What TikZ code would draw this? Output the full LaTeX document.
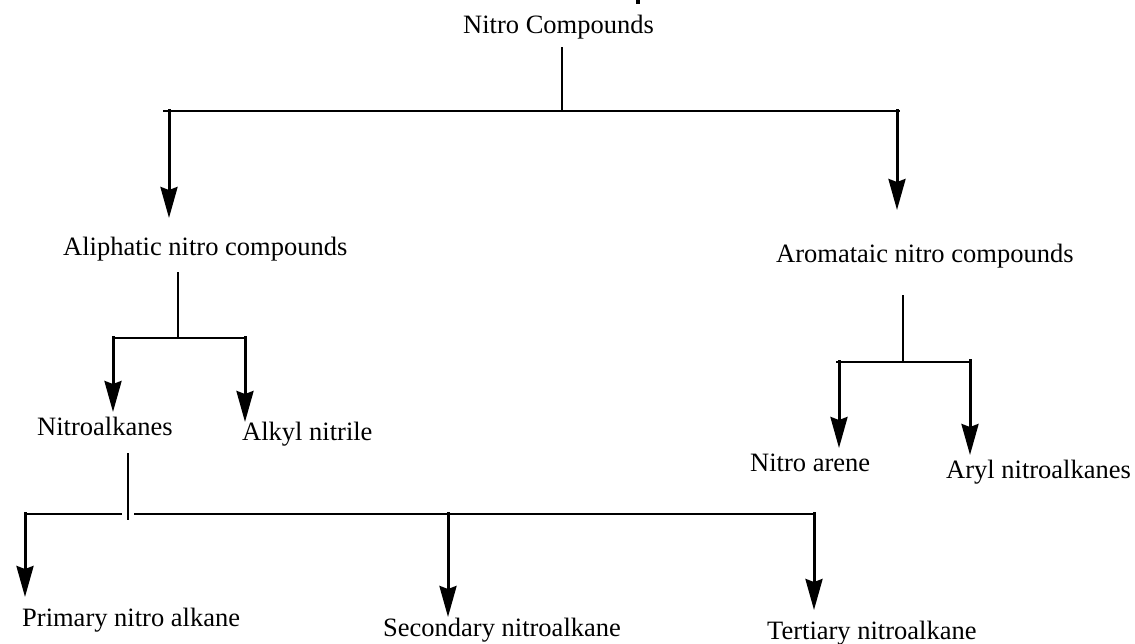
\documentclass[tikz,border=0pt]{standalone}
\usepackage{fontspec}
\setmainfont{Liberation Serif}
\usetikzlibrary{arrows.meta}
\begin{document}
\begin{tikzpicture}[x=1pt,y=-1pt,
  lbl/.style={anchor=base west,inner sep=0pt,font=\fontsize{26.5}{30}\selectfont},
  thinln/.style={line width=2pt},
  arr/.style={line width=3pt,-{Stealth[length=31pt,width=17pt,inset=3pt]}}]
\useasboundingbox (0,0) rectangle (1135,643);
% clipped fragment at top edge
\fill (636,0) rectangle (640,4);
% text nodes
\node[lbl] (root) at (463,33) {Nitro Compounds};
\node[lbl] (ali) at (63,255) {Aliphatic nitro compounds};
\node[lbl] (aro) at (776,262) {Aromataic nitro compounds};
\node[lbl] (nalk) at (37,435) {Nitroalkanes};
\node[lbl] (alkyl) at (242,440) {Alkyl nitrile};
\node[lbl] (narene) at (750,471) {Nitro arene};
\node[lbl] (aryl) at (946,478) {Aryl nitroalkanes};
\node[lbl] (prim) at (22,626) {Primary nitro alkane};
\node[lbl] (sec) at (383,636) {Secondary nitroalkane};
\node[lbl] (ter) at (767,639) {Tertiary nitroalkane};
% coordinates
\coordinate (r0) at (562,47);
\coordinate (r1) at (562,111);
\coordinate (hL) at (163,111);
\coordinate (hR) at (900,111);
\coordinate (aL0) at (169,109);
\coordinate (aL1) at (169,218);
\coordinate (aR0) at (897,109);
\coordinate (aR1) at (897,210);
% aliphatic
\coordinate (s0) at (178,272);
\coordinate (s1) at (178,338);
\coordinate (sh0) at (112,338);
\coordinate (sh1) at (246,338);
\coordinate (b0) at (113,336);
\coordinate (b1) at (113,412);
\coordinate (c0) at (245,336);
\coordinate (c1) at (245,422);
% nitroalkanes
\coordinate (n0) at (128,453);
\coordinate (n1) at (128,520);
\coordinate (nh0) at (24,514);
\coordinate (nh1) at (122,514);
\coordinate (nh2) at (134,514);
\coordinate (nh3) at (815,514);
\coordinate (p0) at (25,512);
\coordinate (p1) at (25,597);
\coordinate (q0) at (448,512);
\coordinate (q1) at (448,617);
\coordinate (t0) at (814,512);
\coordinate (t1) at (814,610);
% aromatic
\coordinate (m0) at (903,295);
\coordinate (m1) at (903,362);
\coordinate (mh0) at (836,362);
\coordinate (mh1) at (971,362);
\coordinate (d0) at (839,360);
\coordinate (d1) at (839,448);
\coordinate (e0) at (970,359);
\coordinate (e1) at (970,455);
% lines
\draw[thinln] (r0) -- (r1);
\draw[thinln] (hL) -- (hR);
\draw[arr] (aL0) -- (aL1);
\draw[arr] (aR0) -- (aR1);
\draw[thinln] (s0) -- (s1);
\draw[thinln] (sh0) -- (sh1);
\draw[arr] (b0) -- (b1);
\draw[arr] (c0) -- (c1);
\draw[thinln] (n0) -- (n1);
\draw[thinln] (nh0) -- (nh1);
\draw[thinln] (nh2) -- (nh3);
\draw[arr] (p0) -- (p1);
\draw[arr] (q0) -- (q1);
\draw[arr] (t0) -- (t1);
\draw[thinln] (m0) -- (m1);
\draw[thinln] (mh0) -- (mh1);
\draw[arr] (d0) -- (d1);
\draw[arr] (e0) -- (e1);
\end{tikzpicture}
\end{document}
